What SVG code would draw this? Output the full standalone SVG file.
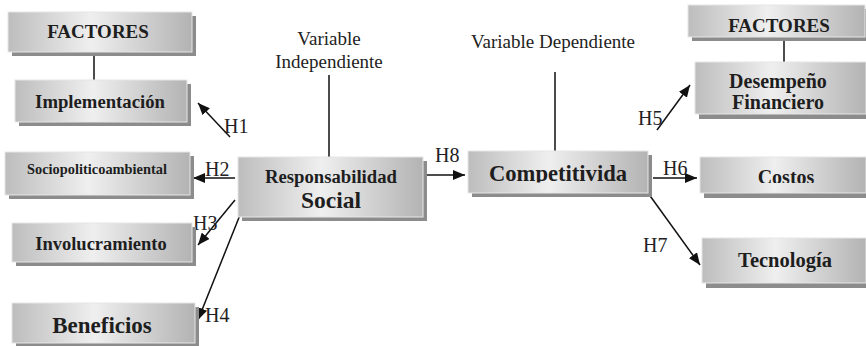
<svg xmlns="http://www.w3.org/2000/svg" width="866" height="346" viewBox="0 0 866 346" font-family="'Liberation Serif', 'DejaVu Serif', 'Times New Roman', serif">
<defs>
  <linearGradient id="g" x1="0" y1="0" x2="1" y2="0">
    <stop offset="0" stop-color="#bdbdbd"/>
    <stop offset="0.45" stop-color="#efefef"/>
    <stop offset="1" stop-color="#b3b3b3"/>
  </linearGradient>
  <marker id="ah" viewBox="0 0 12 10" refX="12" refY="5" markerWidth="12" markerHeight="10" markerUnits="userSpaceOnUse" orient="auto">
    <path d="M0,0 L12,5 L0,10 Z" fill="#111"/>
  </marker>
  <clipPath id="cDes"><rect x="695" y="62" width="171" height="49.5"/></clipPath>
  <clipPath id="cCos"><rect x="700" y="157" width="166" height="26"/></clipPath>
  <clipPath id="cComp"><rect x="468" y="151" width="180" height="31.5"/></clipPath>
</defs>
<style>
  .sh{fill:#8c8c8c}
  .bx{fill:url(#g);stroke:#e6e6e6;stroke-width:1}
  text{font-family:'Liberation Serif', 'DejaVu Serif', serif}
  .t{font-weight:bold;fill:#1e1e1e;text-anchor:middle}
  .lbl{fill:#222;text-anchor:middle;font-size:19px}
  .h{fill:#222;font-size:20px}
  .ln{stroke:#111;stroke-width:1.5;fill:none}
  .ar{stroke:#111;stroke-width:1.5;fill:none;marker-end:url(#ah)}
</style>
<rect width="866" height="346" fill="#fff"/>

<g id="connectors">
  <line class="ln" x1="94" y1="52" x2="94" y2="80"/>
  <line class="ln" x1="784" y1="37" x2="784" y2="62"/>
  <line class="ln" x1="329" y1="75" x2="329" y2="157"/>
  <line class="ln" x1="555" y1="72" x2="555" y2="151"/>
  <line class="ar" x1="230" y1="137" x2="198" y2="103"/>
  <line class="ar" x1="235" y1="178" x2="193" y2="178"/>
  <line class="ar" x1="235" y1="200" x2="198" y2="245"/>
  <line class="ar" x1="240" y1="215" x2="198" y2="320"/>
  <line class="ar" x1="425" y1="175" x2="465" y2="175"/>
  <line class="ar" x1="657" y1="130" x2="690" y2="85"/>
  <line class="ar" x1="653" y1="178" x2="697" y2="178"/>
  <line class="ar" x1="648" y1="193" x2="700" y2="265"/>
  <text class="h" x="224" y="133">H1</text>
  <text class="h" x="205" y="176">H2</text>
  <text class="h" x="193" y="230">H3</text>
  <text class="h" x="205" y="322">H4</text>
  <text class="h" x="435" y="162">H8</text>
  <text class="h" x="638" y="125">H5</text>
  <text class="h" x="663" y="175">H6</text>
  <text class="h" x="643" y="252">H7</text>
</g>

<g id="factores-left">
  <rect class="sh" x="12" y="16" width="184" height="40"/>
  <rect class="bx" x="8" y="12" width="184" height="40"/>
  <text class="t" x="98" y="38" font-size="19">FACTORES</text>
</g>
<g id="implementacion">
  <rect class="sh" x="19" y="84" width="172" height="42"/>
  <rect class="bx" x="15" y="80" width="172" height="42"/>
  <text class="t" x="100" y="108" font-size="18.7">Implementación</text>
</g>
<g id="sociopoliticoambiental">
  <rect class="sh" x="9" y="156" width="185" height="43"/>
  <rect class="bx" x="5" y="152" width="185" height="43"/>
  <text class="t" x="97" y="174" font-size="14.4">Sociopoliticoambiental</text>
</g>
<g id="involucramiento">
  <rect class="sh" x="16" y="227" width="180" height="39"/>
  <rect class="bx" x="12" y="223" width="180" height="39"/>
  <text class="t" x="101" y="250" font-size="18.5">Involucramiento</text>
</g>
<g id="beneficios">
  <rect class="sh" x="16" y="307" width="183" height="40"/>
  <rect class="bx" x="12" y="303" width="183" height="40"/>
  <text class="t" x="102" y="333" font-size="23">Beneficios</text>
</g>

<g id="variable-independiente">
  <text class="lbl" x="329" y="45">Variable</text>
  <text class="lbl" x="329" y="68">Independiente</text>
</g>
<g id="responsabilidad-social">
  <rect class="sh" x="242" y="161" width="185" height="60"/>
  <rect class="bx" x="238" y="157" width="185" height="60"/>
  <text class="t" x="331" y="183" font-size="18.7">Responsabilidad</text>
  <text class="t" x="331" y="208" font-size="23.5">Social</text>
</g>

<g id="variable-dependiente">
  <text class="lbl" x="553" y="48">Variable Dependiente</text>
</g>
<g id="competitividad">
  <rect class="sh" x="472" y="155" width="180" height="42"/>
  <rect class="bx" x="468" y="151" width="180" height="42"/>
  <text class="t" x="558" y="181" font-size="22.6" clip-path="url(#cComp)">Competitivida</text>
</g>

<g id="factores-right">
  <rect class="sh" x="692" y="9" width="177" height="32"/>
  <rect class="bx" x="688" y="5" width="177" height="32"/>
  <text class="t" x="779" y="32" font-size="19">FACTORES</text>
</g>
<g id="desempeno-financiero">
  <rect class="sh" x="699" y="67" width="171" height="52"/>
  <rect class="bx" x="695" y="62" width="171" height="52"/>
  <g clip-path="url(#cDes)">
    <text class="t" x="778" y="88" font-size="20">Desempeño</text>
    <text class="t" x="778" y="109" font-size="20">Financiero</text>
  </g>
</g>
<g id="costos">
  <rect class="sh" x="704" y="162" width="166" height="36"/>
  <rect class="bx" x="700" y="157" width="166" height="36"/>
  <text class="t" x="786" y="184" font-size="20" clip-path="url(#cCos)">Costos</text>
</g>
<g id="tecnologia">
  <rect class="sh" x="706" y="243" width="164" height="45"/>
  <rect class="bx" x="702" y="238" width="164" height="45"/>
  <text class="t" x="785" y="267" font-size="20.5">Tecnología</text>
</g>
</svg>
